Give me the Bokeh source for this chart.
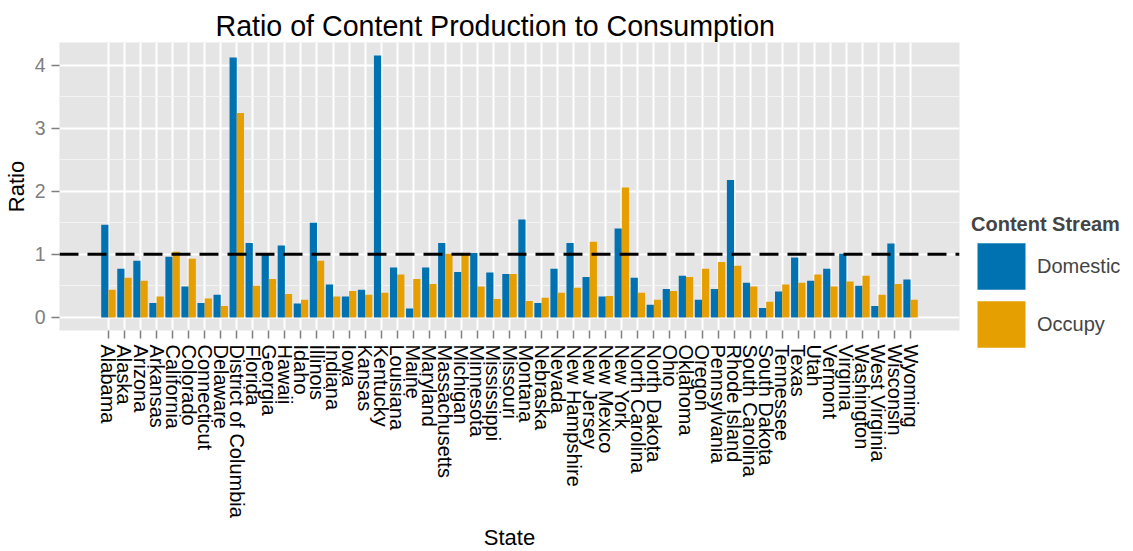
import math
from bokeh.plotting import figure
from bokeh.models import (FactorRange, Range1d, Span, Legend, LegendItem,
                          SingleIntervalTicker, ColumnDataSource, Title)
from bokeh.transform import dodge
from bokeh.embed import file_html
from bokeh.resources import INLINE

states = ["Alabama", "Alaska", "Arizona", "Arkansas", "California", "Colorado",
          "Connecticut", "Delaware", "District of Columbia", "Florida", "Georgia",
          "Hawaii", "Idaho", "Illinois", "Indiana", "Iowa", "Kansas", "Kentucky",
          "Louisiana", "Maine", "Maryland", "Massachusetts", "Michigan", "Minnesota",
          "Mississippi", "Missouri", "Montana", "Nebraska", "Nevada", "New Hampshire",
          "New Jersey", "New Mexico", "New York", "North Carolina", "North Dakota",
          "Ohio", "Oklahoma", "Oregon", "Pennsylvania", "Rhode Island",
          "South Carolina", "South Dakota", "Tennessee", "Texas", "Utah", "Vermont",
          "Virginia", "Washington", "West Virginia", "Wisconsin", "Wyoming"]

domestic = [1.47, 0.77, 0.90, 0.23, 0.96, 0.49, 0.23, 0.36, 4.12, 1.18,
            0.99, 1.14, 0.22, 1.50, 0.52, 0.33, 0.44, 4.15, 0.79, 0.14,
            0.79, 1.18, 0.72, 1.02, 0.71, 0.69, 1.55, 0.23, 0.77, 1.18,
            0.64, 0.33, 1.41, 0.63, 0.20, 0.45, 0.66, 0.28, 0.45, 2.18,
            0.55, 0.15, 0.41, 0.95, 0.58, 0.77, 1.01, 0.50, 0.18, 1.17, 0.60]

occupy = [0.44, 0.63, 0.58, 0.33, 1.04, 0.93, 0.30, 0.18, 3.24, 0.50,
          0.61, 0.37, 0.28, 0.90, 0.33, 0.42, 0.36, 0.39, 0.68, 0.61,
          0.53, 1.01, 0.99, 0.49, 0.29, 0.69, 0.26, 0.31, 0.39, 0.47,
          1.20, 0.34, 2.06, 0.39, 0.28, 0.42, 0.64, 0.77, 0.88, 0.82,
          0.49, 0.25, 0.52, 0.55, 0.68, 0.49, 0.57, 0.66, 0.36, 0.53, 0.28]

series = ["Domestic", "Occupy"]
colors = ["#0072B2", "#E69F00"]
reference_ratio = 1.0

FONT = "Liberation Sans"

source = ColumnDataSource(dict(state=states, domestic=domestic, occupy=occupy))

p = figure(x_range=FactorRange(factors=states, range_padding=0.1),
           y_range=Range1d(-0.2075, 4.3575),
           frame_width=900, frame_height=288,
           min_border_left=59, min_border_top=42,
           min_border_right=174, min_border_bottom=221,
           output_backend="svg", toolbar_location=None)

p.title = Title(text="Ratio of Content Production to Consumption",
                align="left", offset=156, standoff=1,
                text_font=FONT, text_font_size="28.6px", text_font_style="normal",
                text_color="black")

p.background_fill_color = "#E5E5E5"
p.border_fill_color = "white"
p.outline_line_color = None

# grid
p.xgrid.grid_line_color = "white"
p.xgrid.grid_line_width = 2
p.ygrid.grid_line_color = "white"
p.ygrid.grid_line_width = 2
p.ygrid.minor_grid_line_color = "#F4F4F4"
p.ygrid.minor_grid_line_width = 1

# axes
p.yaxis.ticker = SingleIntervalTicker(interval=1, num_minor_ticks=2)
for ax in (p.xaxis, p.yaxis):
    ax.axis_line_color = None
    ax.major_tick_line_color = "#7F7F7F"
    ax.major_tick_line_width = 1.5
    ax.major_tick_out = 8
    ax.major_tick_in = 0
    ax.minor_tick_out = 0
    ax.minor_tick_in = 0
    ax.major_label_text_font = FONT
    ax.axis_label_text_font = FONT
    ax.axis_label_text_font_size = "22px"
    ax.axis_label_text_font_style = "normal"
    ax.axis_label_text_color = "black"

p.xaxis.major_label_orientation = -math.pi / 2
p.xaxis.major_label_text_font_size = "20px"
p.xaxis.major_label_text_color = "black"
p.xaxis.major_label_standoff = 6
p.xaxis.axis_label = "State"
p.xaxis.axis_label_standoff = 4

p.yaxis.major_label_text_font_size = "19.5px"
p.yaxis.major_label_text_color = "#7F7F7F"
p.yaxis.major_label_standoff = 6
p.yaxis.axis_label = "Ratio"
p.yaxis.axis_label_standoff = 3

r1 = p.vbar(x=dodge("state", -0.225, range=p.x_range), top="domestic", bottom=0,
            width=0.45, source=source, fill_color=colors[0], line_color=None)
r2 = p.vbar(x=dodge("state", 0.225, range=p.x_range), top="occupy", bottom=0,
            width=0.45, source=source, fill_color=colors[1], line_color=None)

p.add_layout(Span(location=reference_ratio, dimension="width", line_color="black",
                  line_width=3, line_dash="19 9"))

legend = Legend(items=[LegendItem(label=series[0], renderers=[r1]),
                       LegendItem(label=series[1], renderers=[r2])],
                title="Content Stream", location=(12, -23),
                glyph_width=60, glyph_height=58, label_height=58, spacing=0,
                label_standoff=6, padding=0, margin=0,
                border_line_color=None, background_fill_alpha=0,
                label_text_font=FONT, label_text_font_size="20px",
                title_text_font=FONT, title_text_font_size="20px",
                title_text_font_style="bold", title_standoff=1)
p.add_layout(legend, "right")

open("out.html", "w").write(file_html(p, INLINE))
